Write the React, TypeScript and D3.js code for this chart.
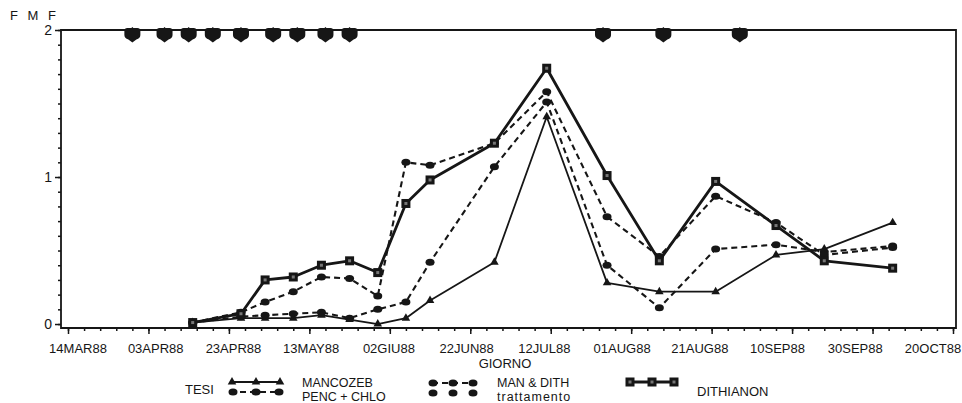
import React, { useRef, useEffect } from 'react';
import * as d3 from 'd3';

// sampling dates (GIORNO) and FMF values per treatment
const sampleDates = [
  '1988-04-14', '1988-04-26', '1988-05-02', '1988-05-09', '1988-05-16', '1988-05-23',
  '1988-05-30', '1988-06-06', '1988-06-12', '1988-06-28', '1988-07-11', '1988-07-26',
  '1988-08-08', '1988-08-22', '1988-09-06', '1988-09-18', '1988-10-05',
];
const mancozeb = [0.01, 0.04, 0.04, 0.04, 0.06, 0.03, 0.0, 0.04, 0.16, 0.42, 1.41, 0.28, 0.22, 0.22, 0.47, 0.51, 0.69];
const pencChlo = [0.01, 0.05, 0.06, 0.07, 0.08, 0.04, 0.1, 0.15, 0.42, 1.07, 1.51, 0.4, 0.11, 0.51, 0.54, 0.49, 0.53];
const manDith = [0.01, 0.08, 0.15, 0.22, 0.32, 0.31, 0.19, 1.1, 1.08, 1.23, 1.58, 0.73, 0.46, 0.87, 0.69, 0.47, 0.52];
const dithianon = [0.01, 0.07, 0.3, 0.32, 0.4, 0.43, 0.35, 0.82, 0.98, 1.23, 1.74, 1.01, 0.43, 0.97, 0.67, 0.43, 0.38];

// treatment dates (trattamento), drawn at FMF = 2
const treatmentDates = [
  '1988-03-30', '1988-04-07', '1988-04-13', '1988-04-19', '1988-04-26', '1988-05-04',
  '1988-05-10', '1988-05-17', '1988-05-23', '1988-07-25', '1988-08-09', '1988-08-28',
];

const xTickLabels = [
  '14MAR88', '03APR88', '23APR88', '13MAY88', '02GIU88', '22JUN88',
  '12JUL88', '01AUG88', '21AUG88', '10SEP88', '30SEP88', '20OCT88',
];
const yTickLabels = ['0', '1', '2'];

const FONT = '"Liberation Sans", Arial, Helvetica, sans-serif';
const INK = '#161616';

const App = () => {
  const svgRef = useRef<SVGSVGElement>(null);

  useEffect(() => {
    const width = 962;
    const height = 403;
    const left = 61, right = 956, top = 30, bottom = 328;

    const parse = d3.timeParse('%Y-%m-%d');
    const start = parse('1988-03-14') as Date;
    const end = parse('1988-10-20') as Date;

    const x = d3.scaleTime().domain([start, end]).range([68, 953]);
    const y = d3.scaleLinear().domain([-0.027, 2]).range([bottom, top]);
    // the printed labels sit a little compressed against the tick marks
    const labelX = d3.scaleLinear().domain([0, xTickLabels.length - 1]).range([78, 933]);

    const svg = d3.select(svgRef.current)
      .attr('width', width)
      .attr('height', height);
    svg.selectAll('*').remove();

    svg.append('rect').attr('width', width).attr('height', height).attr('fill', '#fff');

    const dates = sampleDates.map(d => parse(d) as Date);

    // frame
    svg.append('path')
      .attr('d', `M${left},${top}H${right}V${bottom}H${left}Z`)
      .attr('fill', 'none')
      .attr('stroke', INK)
      .attr('stroke-width', 1.8);

    // x axis ticks
    const minor = d3.range(0, 221, 4).map(d => d3.timeDay.offset(start, d));
    const major = d3.range(0, 221, 20).map(d => d3.timeDay.offset(start, d));

    const gx = svg.append('g').attr('transform', `translate(0,${bottom})`);
    gx.call(d3.axisBottom(x).tickValues(minor).tickSize(3).tickFormat(() => ''));
    gx.select('.domain').remove();
    const gx2 = svg.append('g').attr('transform', `translate(0,${bottom})`);
    gx2.call(d3.axisBottom(x).tickValues(major).tickSize(6).tickFormat(() => ''));
    gx2.select('.domain').remove();

    svg.append('g')
      .selectAll('text')
      .data(xTickLabels)
      .enter().append('text')
      .attr('x', (_d, i) => labelX(i))
      .attr('y', 353)
      .attr('text-anchor', 'middle')
      .attr('font-family', FONT)
      .attr('font-size', 13)
      .attr('fill', INK)
      .text(d => d);

    // y axis
    const gy = svg.append('g').attr('transform', `translate(${left},0)`);
    gy.call(d3.axisLeft(y).tickValues(d3.range(0, 2.01, 0.1)).tickSize(3).tickFormat(() => ''));
    gy.select('.domain').remove();
    const gy2 = svg.append('g').attr('transform', `translate(${left},0)`);
    gy2.call(d3.axisLeft(y).tickValues([0, 1, 2]).tickSize(6).tickPadding(3)
      .tickFormat((_d, i) => yTickLabels[i]));
    gy2.select('.domain').remove();
    svg.selectAll('g .tick line').attr('stroke', INK).attr('stroke-width', 1.5);
    gy2.selectAll('text')
      .attr('font-family', FONT)
      .attr('font-size', 14)
      .attr('fill', INK);

    svg.append('text')
      .attr('x', 10).attr('y', 20)
      .attr('font-family', FONT).attr('font-size', 13).attr('fill', INK)
      .attr('letter-spacing', 3)
      .text('F M F');

    svg.append('text')
      .attr('x', 505).attr('y', 368)
      .attr('text-anchor', 'middle')
      .attr('font-family', FONT).attr('font-size', 13).attr('fill', INK)
      .text('GIORNO');

    // marker shapes
    const tri = d3.symbol().type(d3.symbolTriangle).size(32)();
    const sq = (g: any, cx: number, cy: number) => {
      g.append('rect').attr('x', cx - 4.5).attr('y', cy - 4.5).attr('width', 9).attr('height', 9).attr('fill', INK);
      g.append('rect').attr('x', cx - 1.5).attr('y', cy - 1.5).attr('width', 3).attr('height', 3).attr('fill', '#777');
    };
    const dot = (g: any, cx: number, cy: number) => {
      g.append('ellipse').attr('cx', cx).attr('cy', cy).attr('rx', 4.5).attr('ry', 3.5).attr('fill', INK);
    };
    const triangle = (g: any, cx: number, cy: number) => {
      g.append('path').attr('d', tri).attr('transform', `translate(${cx},${cy})`).attr('fill', INK);
    };

    const line = d3.line<number>()
      .x((_d, i) => x(dates[i]))
      .y(d => y(d));

    const series = [
      { values: pencChlo, width: 2.1, dash: '6,4', marker: dot },
      { values: manDith, width: 2.1, dash: '6,4', marker: dot },
      { values: mancozeb, width: 1.8, dash: null, marker: triangle },
      { values: dithianon, width: 2.8, dash: null, marker: sq },
    ];

    series.forEach(s => {
      svg.append('path')
        .datum(s.values)
        .attr('d', line)
        .attr('fill', 'none')
        .attr('stroke', INK)
        .attr('stroke-width', s.width)
        .attr('stroke-dasharray', s.dash)
        .attr('stroke-linejoin', 'round');
      const g = svg.append('g');
      s.values.forEach((v, i) => s.marker(g, x(dates[i]), y(v)));
    });

    // treatment markers at the top
    const shield = 'M-8,-4Q-8,-7,-5,-7L-1,-7L0,-8L1,-7L5,-7Q8,-7,8,-4L8,0Q8,3,4,4.5L0,7.5L-4,4.5Q-8,3,-8,0Z';
    svg.append('g')
      .selectAll('path')
      .data(treatmentDates.map(d => parse(d) as Date))
      .enter().append('path')
      .attr('d', shield)
      .attr('transform', d => `translate(${x(d)},${y(2) + 5})`)
      .attr('fill', INK);

    // legend
    const lg = svg.append('g').attr('font-family', FONT).attr('fill', INK);
    lg.append('text').attr('x', 185).attr('y', 394).attr('font-size', 13).text('TESI');

    lg.append('line').attr('x1', 230).attr('x2', 282).attr('y1', 382).attr('y2', 382)
      .attr('stroke', INK).attr('stroke-width', 1.8);
    [232, 256, 280].forEach(cx => triangle(lg, cx, 382));
    lg.append('line').attr('x1', 230).attr('x2', 282).attr('y1', 392).attr('y2', 392)
      .attr('stroke', INK).attr('stroke-width', 2.1).attr('stroke-dasharray', '6,4');
    [233, 256, 279].forEach(cx => dot(lg, cx, 392));
    lg.append('text').attr('x', 302).attr('y', 386.5).attr('font-size', 12.5).text('MANCOZEB');
    lg.append('text').attr('x', 302).attr('y', 401).attr('font-size', 12.5).text('PENC + CHLO');

    lg.append('line').attr('x1', 432).attr('x2', 474).attr('y1', 383).attr('y2', 383)
      .attr('stroke', INK).attr('stroke-width', 2.1).attr('stroke-dasharray', '6,4');
    [433, 453, 473].forEach(cx => dot(lg, cx, 383));
    [433, 453, 473].forEach(cx => dot(lg, cx, 393));
    lg.append('text').attr('x', 497).attr('y', 386.5).attr('font-size', 12.5).text('MAN & DITH');
    lg.append('text').attr('x', 497).attr('y', 401).attr('font-size', 12.5).attr('letter-spacing', 1).text('trattamento');

    lg.append('line').attr('x1', 627).attr('x2', 677).attr('y1', 382).attr('y2', 382)
      .attr('stroke', INK).attr('stroke-width', 2.8);
    [630, 652, 674].forEach(cx => sq(lg, cx, 382));
    lg.append('text').attr('x', 697).attr('y', 396).attr('font-size', 13).text('DITHIANON');
  }, []);

  return (
    <svg ref={svgRef} style={{ position: 'absolute', left: 0, top: 0 }}></svg>
  );
};

export default App;
